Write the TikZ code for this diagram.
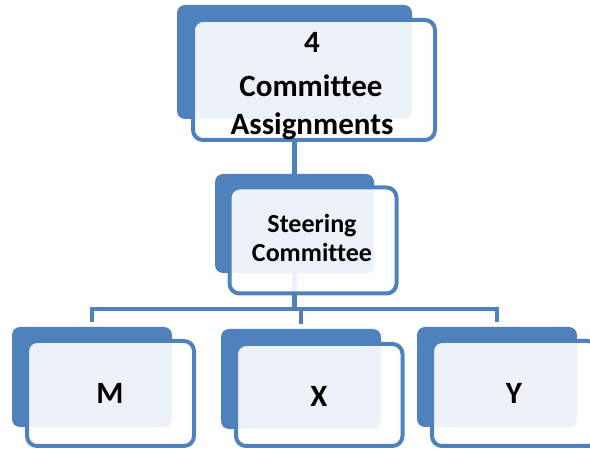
\documentclass[tikz,border=0pt]{standalone}
\usepackage{fontspec}
\setmainfont{Carlito}[Ligatures=NoCommon]
\usetikzlibrary{calc}
\definecolor{bl}{HTML}{4F81BD}
\pgfdeclarelayer{bg}\pgfsetlayers{bg,main}
\begin{document}
\begin{tikzpicture}[x=1pt,y=-1pt,
 backbox/.style={fill=bl, rounded corners=8pt, inner sep=0pt, outer sep=0pt, draw=none},
 frontbox/.style={draw=bl, line width=4pt, fill=white, fill opacity=0.9, draw opacity=1, rounded corners=10pt, inner sep=0pt},
 big/.style={font=\fontsize{31}{37}\selectfont\bfseries, anchor=base, inner sep=0pt},
 mid/.style={font=\fontsize{26}{31}\selectfont\bfseries, anchor=base, inner sep=0pt},
 conn/.style={draw=bl, line width=4.5pt}]
\useasboundingbox (0,0) rectangle (590,449);
\clip (0,0) rectangle (590,449);
% top box
\node[backbox, minimum width=235pt, minimum height=114pt] (b1) at (294.5,62) {};
\node[frontbox, minimum width=242pt, minimum height=120pt] (f1) at (314,80) {};
% steering
\node[backbox, minimum width=159pt, minimum height=99pt] (b2) at (294.5,223.5) {};
\node[frontbox, minimum width=167pt, minimum height=106pt] (f2) at (313,240.5) {};
% M X Y
\node[backbox, minimum width=160pt, minimum height=100pt] (bm) at (92,377) {};
\node[frontbox, minimum width=167pt, minimum height=105pt] (fm) at (110.5,393.5) {};
\node[backbox, minimum width=160pt, minimum height=100pt] (bx) at (301,379) {};
\node[frontbox, minimum width=166.5pt, minimum height=102pt] (fx) at (319.25,395) {};
\node[backbox, minimum width=160pt, minimum height=100pt] (by) at (497,377) {};
\node[frontbox, minimum width=166pt, minimum height=105pt] (fy) at (515,393.5) {};
% texts
\node[big] (t1) at (312,53) {4};
\node[big] (t2) at (311,97) {Committee};
\node[big] (t3) at (312,135) {Assignments};
\node[mid] (s1) at (312,233) {Steering};
\node[mid] (s2) at (312,262) {Committee};
\node[big] (tm) at (110,404) {M};
\node[big] (tx) at (319,407) {X};
\node[big] (ty) at (514,404) {Y};
% connectors
\coordinate (j) at (294,309);
\begin{pgfonlayer}{bg}
\draw[conn] (b1.south |- f1.south) -- (b1.south |- b2.north);
\draw[conn] (b2.south) -- (b2.south |- j);
\draw[conn] ($(bm.north)+(0,-5)$) -- (bm.north |- j) -- (by.north |- j) -- ($(by.north)+(0,-5)$);
\draw[conn] (bx.north |- j) -- ($(bx.north)+(0,-5)$);
\end{pgfonlayer}
\end{tikzpicture}
\end{document}
